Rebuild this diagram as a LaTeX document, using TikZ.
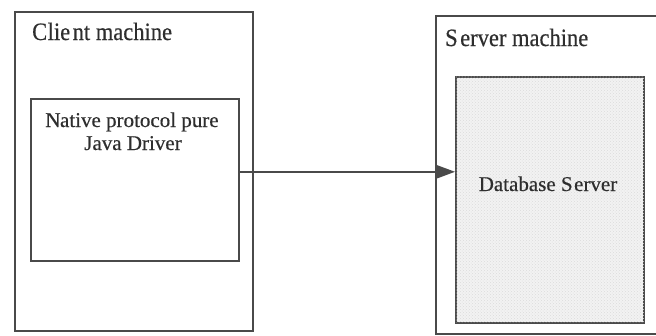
\documentclass[tikz,border=0pt]{standalone}
\usepackage{fontspec}
\setmainfont{Liberation Serif}
\newfontfamily\capfont[FakeStretch=0.9,FakeBold=0.4]{Liberation Serif}
\newfontfamily\lblfont[FakeBold=0.4]{Liberation Serif}
\usetikzlibrary{arrows.meta,patterns,calc}
\definecolor{ink}{HTML}{4A4A4A}
\definecolor{txt}{HTML}{2E2E2E}
\tikzset{
  machine/.style={draw=ink, line width=1.8pt, anchor=north west, inner sep=0pt},
  component/.style={draw=ink, line width=1.6pt, anchor=north west, inner sep=0pt},
  caption/.style={text=txt, font=\capfont\fontsize{25}{28}\selectfont, anchor=base west, inner sep=0pt},
  label/.style={text=txt, font=\lblfont\fontsize{21}{24}\selectfont, inner sep=0pt, anchor=base},
  link/.style={draw=ink, line width=1.4pt, -{Triangle[length=18pt,width=13pt]}}
}
\begin{document}
\begin{tikzpicture}[x=1pt, y=-1pt]
  \useasboundingbox[fill=white] (0,0) rectangle (656,335);
  % client side
  \node[machine, minimum width=238pt, minimum height=319pt] (cm) at (14,11) {};
  \node[caption] (cmt) at (32,40) {C\kern0.5pt lie\kern2.5pt nt machine};
  \node[component, minimum width=208pt, minimum height=162pt] (cin) at (30,98) {};
  \node[label] (cint1) at (132,127) {N\kern-0.5pt ative protocol pure};
  \node[label] (cint2) at (133,150) {Java Driver};
  % server side
  \node[machine, minimum width=224pt, minimum height=318pt] (sm) at (435,15) {};
  \node[caption] (smt) at (445,46) {S\kern2.5pt erver machine};
  \node[component, minimum width=188pt, minimum height=246pt,
        fill=black!5, postaction={pattern=crosshatch dots, pattern color=black!14}] (sin) at (455,76) {};
  \node[label] (sint) at (548,191) {Database S\kern1.5pt erver};
  % connection
  \draw[link] ([yshift=8pt]cin.east) -- ([yshift=8pt]cin.east -| sin.west);
\end{tikzpicture}
\end{document}
